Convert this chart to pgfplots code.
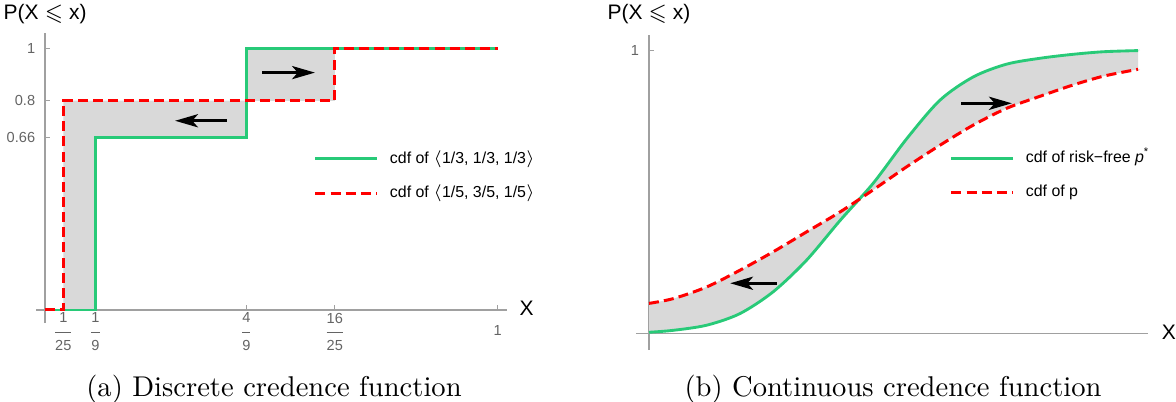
\documentclass[border=0pt]{standalone}
\usepackage{amsmath,amssymb}
\usepackage{pgfplots}
\pgfplotsset{compat=1.18}
\usetikzlibrary{arrows.meta}
\usepackage{fontspec}
\setsansfont{Liberation Sans}
\definecolor{cgreen}{RGB}{40,202,120}
\definecolor{cred}{RGB}{255,0,0}
\definecolor{cfill}{RGB}{217,217,217}
\definecolor{caxis}{RGB}{160,160,160}
\definecolor{ctick}{RGB}{100,100,100}
\newcommand{\fr}[2]{$\dfrac{\text{#1}}{\text{#2}}$}
\pgfplotsset{mystyle/.style={
  axis lines=middle,
  axis line style={-, draw=caxis, line width=0.5pt},
  inner axis line style={-},
  tick align=inside,
  major tick length=1.75pt,
  tick style={draw=caxis, line width=0.4pt},
  every tick label/.append style={font=\sffamily\fontsize{5.1}{6}\selectfont, text=ctick},
  clip=false,
  no markers,
  anchor=origin,
  legend style={draw=none, fill=none, inner sep=0pt, outer sep=0pt,
    font=\sffamily\fontsize{5.57}{6.5}\selectfont,
    nodes={inner sep=0pt, text height=4.1pt, text depth=1.2pt},
    anchor=west, row sep=6.7pt},
  legend cell align=left,
  legend image code/.code={\draw[##1] (0pt,0pt) -- (21.7pt,0pt); \path (25.55pt,0pt);},
}}
\tikzset{myarrow/.style={black, line width=1pt, -{Stealth[length=8pt,width=4.6pt,inset=2pt]}}}
\begin{document}
\begin{tikzpicture}
\useasboundingbox (0,0) rectangle (411.6pt,140.7pt);
% ---------------- left: discrete ----------------
\begin{axis}[mystyle, at={(15.82pt,32.2pt)}, x=158.4pt, y=91.6pt,
  xmin=-0.0203, xmax=1.0206, ymin=-0.05, ymax=1.058,
  xtick={0.04,0.11111,0.44444,0.64,1},
  xticklabels={\fr{1}{25},\fr{1}{9},\fr{4}{9},\fr{16}{25},{$\vphantom{\dfrac{1}{1}}\text{1}$}},
  xticklabel style={anchor=center, yshift=-7.7pt},
  ytick={0.66,0.8,1}, yticklabels={0.66,0.8,1},
  legend style={at={(0.590,0.507)}}]
\addplot[fill=cfill, draw=none, forget plot] coordinates {(0.04,0) (0.11111,0) (0.11111,0.66) (0.44444,0.66) (0.44444,0.8) (0.04,0.8)};
\addplot[fill=cfill, draw=none, forget plot] coordinates {(0.44444,0.8) (0.44444,1) (0.64,1) (0.64,0.8)};
\addplot[cgreen, line width=1pt] coordinates {(0,0) (0.11111,0) (0.11111,0.66) (0.44444,0.66) (0.44444,1) (1,1)};
\addlegendentry{cdf of $\langle$1/3, 1/3, 1/3$\rangle$}
\addplot[cred, line width=1.05pt, dash pattern=on 3.5pt off 1.8pt] coordinates {(0,0) (0.04,0) (0.04,0.8) (0.64,0.8) (0.64,1) (1,1)};
\addlegendentry{cdf of $\langle$1/5, 3/5, 1/5$\rangle$}
\addplot[myarrow, forget plot] coordinates {(0.401,0.723) (0.287,0.723)};
\addplot[myarrow, forget plot] coordinates {(0.48,0.907) (0.596,0.907)};
\node[font=\sffamily\fontsize{7.35}{8}\selectfont] at (axis cs:0,1.131) {P(X $\leqslant$ x)};
\node[font=\sffamily\fontsize{7.35}{8}\selectfont] at (axis cs:1.064,0.005) {X};
\end{axis}
% ---------------- right: continuous ----------------
\begin{axis}[mystyle, at={(227.15pt,23.9pt)}, x=171.15pt, y=99.19pt,
  xmin=-0.027, xmax=1.02, ymin=-0.058, ymax=1.054,
  xtick=\empty, ytick={1}, yticklabels={1},
  legend style={at={(0.6135,0.5535)}}]
% band between the two cdfs: green forward, red backward
\addplot[fill=cfill, draw=none, smooth, forget plot] coordinates {(0,0.005) (0,0.005) (0.05,0.012) (0.118,0.030) (0.186,0.071) (0.254,0.148) (0.322,0.259) (0.391,0.400) (0.459,0.532) (0.527,0.688) (0.595,0.824) (0.663,0.906) (0.731,0.951) (0.8,0.972) (0.868,0.986) (0.93,0.995) (1,0.999) (1,0.999) (1,0.933) (1,0.933) (0.93,0.909) (0.868,0.878) (0.8,0.838) (0.731,0.795) (0.663,0.736) (0.595,0.665) (0.527,0.589) (0.452,0.500) (0.391,0.430) (0.322,0.359) (0.254,0.289) (0.186,0.224) (0.118,0.165) (0.05,0.124) (0,0.107) (0,0.107)};
\addplot[cgreen, line width=1pt, smooth] coordinates {(0,0.005) (0.05,0.012) (0.118,0.030) (0.186,0.071) (0.254,0.148) (0.322,0.259) (0.391,0.400) (0.459,0.532) (0.527,0.688) (0.595,0.824) (0.663,0.906) (0.731,0.951) (0.8,0.972) (0.868,0.986) (0.93,0.995) (1,0.999)};
\addlegendentry{cdf of risk−free \textit{p}\textsuperscript{*}}
\addplot[cred, line width=1.05pt, dash pattern=on 3.5pt off 1.8pt, smooth] coordinates {(0,0.107) (0.05,0.124) (0.118,0.165) (0.186,0.224) (0.254,0.289) (0.322,0.359) (0.391,0.430) (0.452,0.500) (0.527,0.589) (0.595,0.665) (0.663,0.736) (0.731,0.795) (0.8,0.838) (0.868,0.878) (0.93,0.909) (1,0.933)};
\addlegendentry{cdf of p}
\addplot[myarrow, forget plot] coordinates {(0.261,0.178) (0.166,0.178)};
\addplot[myarrow, forget plot] coordinates {(0.639,0.813) (0.742,0.813)};
\node[font=\sffamily\fontsize{7.35}{8}\selectfont] at (axis cs:0,1.128) {P(X $\leqslant$ x)};
\node[font=\sffamily\fontsize{7.35}{8}\selectfont] at (axis cs:1.063,0.004) {X};
\end{axis}
% captions
\node[anchor=base, font=\fontsize{10}{12}\selectfont] at (95.9pt,1.86pt) {(a) Discrete credence function};
\node[anchor=base, font=\fontsize{10}{12}\selectfont] at (312.55pt,1.86pt) {(b) Continuous credence function};
\end{tikzpicture}
\end{document}
